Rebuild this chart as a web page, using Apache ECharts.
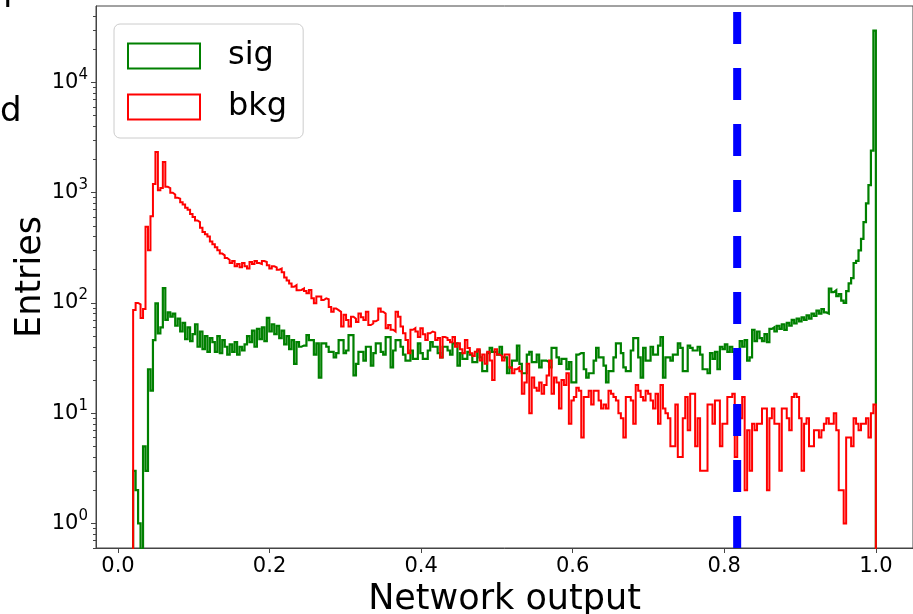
<!DOCTYPE html>
<html>
<head>
<meta charset="utf-8">
<script src="https://cdn.jsdelivr.net/npm/echarts@6/dist/echarts.min.js"></script>
<style>
  html, body { margin: 0; padding: 0; background: #ffffff; }
  #chart { width: 913px; height: 614px; }
</style>
</head>
<body>
<div id="chart"></div>
<script>
// Histogram range: 300 equal-width bins between these edges
const histRange = [0.02, 1.0];

// Signal entries per bin
const sigCounts = [
  3, 2, 1, 0, 5, 3, 25, 16, 46, 99,
  53, 60, 136, 70, 82, 75, 80, 62, 72, 55,
  66, 47, 60, 45, 52, 64, 40, 55, 38, 50,
  36, 48, 44, 36, 50, 35, 46, 40, 34, 42,
  36, 44, 34, 40, 37, 42, 50, 44, 56, 40,
  58, 47, 60, 45, 73, 55, 64, 52, 62, 48,
  56, 42, 50, 38, 46, 28, 44, 40, 41, 41,
  51, 46, 46, 34, 43, 21, 43, 43, 40, 36,
  36, 32, 35, 46, 46, 35, 37, 51, 51, 22,
  28, 36, 36, 30, 40, 40, 27, 35, 43, 43,
  36, 34, 49, 49, 26, 37, 46, 46, 40, 34,
  30, 30, 37, 31, 31, 43, 35, 31, 31, 37,
  44, 40, 40, 35, 32, 40, 40, 37, 34, 43,
  43, 27, 35, 31, 31, 36, 34, 29, 29, 37,
  32, 24, 24, 35, 39, 36, 36, 34, 40, 32,
  32, 23, 26, 30, 30, 41, 28, 23, 23, 34,
  36, 29, 29, 34, 26, 30, 30, 29, 26, 39,
  39, 32, 28, 31, 31, 25, 29, 19, 19, 34,
  35, 35, 25, 21, 23, 23, 30, 39, 32, 32,
  27, 19, 24, 24, 32, 43, 43, 35, 26, 24,
  24, 37, 48, 48, 32, 21, 39, 30, 30, 40,
  34, 34, 41, 49, 21, 32, 32, 30, 34, 34,
  43, 39, 24, 24, 41, 39, 37, 37, 40, 34,
  25, 25, 23, 35, 31, 36, 25, 40, 38, 42,
  36, 40, 36, 34, 38, 45, 40, 46, 30, 32,
  57, 45, 55, 48, 45, 52, 44, 58, 60, 55,
  62, 58, 64, 57, 66, 62, 70, 65, 72, 68,
  74, 70, 77, 72, 80, 76, 85, 80, 88, 82,
  80, 135, 125, 130, 115, 120, 105, 100, 128, 150,
  168, 230, 240, 300, 380, 540, 800, 1170, 2400, 29500
];

// Background entries per bin
const bkgCounts = [
  86, 100, 97, 73, 88, 490, 300, 610, 1200, 2340,
  1050, 1100, 1900, 1130, 1100, 1000, 960, 900, 880, 820,
  780, 730, 700, 640, 600, 560, 540, 480, 440, 420,
  400, 360, 340, 320, 300, 280, 270, 255, 245, 230,
  240, 215, 225, 210, 230, 215, 205, 235, 225, 240,
  230, 225, 240, 235, 220, 205, 215, 210, 200, 205,
  190, 170, 160, 150, 140, 145, 130, 131, 135, 128,
  122, 131, 110, 99, 114, 114, 106, 110, 108, 92,
  83, 89, 86, 83, 61, 78, 70, 61, 75, 72,
  67, 80, 74, 70, 83, 63, 65, 68, 70, 89,
  83, 80, 59, 63, 57, 55, 83, 75, 61, 53,
  46, 35, 57, 59, 55, 49, 59, 52, 46, 53,
  55, 54, 46, 48, 32, 49, 48, 46, 44, 49,
  40, 43, 38, 35, 46, 39, 35, 33, 36, 38,
  30, 34, 28, 36, 30, 20, 38, 34, 33, 30,
  34, 34, 26, 23, 25, 26, 24, 15, 19, 28,
  10, 21, 17, 16, 19, 15, 18, 22, 30, 15,
  21, 19, 11, 20, 18, 23, 8, 13, 14, 17,
  16, 6, 14, 14, 16, 12, 16, 16, 13, 11,
  12, 11, 16, 15, 14, 13, 10, 9, 6, 14,
  14, 13, 8, 18, 16, 14, 13, 16, 15, 13,
  11, 15, 8, 18, 11, 10, 9, 5, 5, 12,
  4, 4, 9, 14, 7, 15, 15, 5, 9, 3,
  3, 3, 12, 12, 8, 13, 13, 5, 8, 8,
  14, 14, 15, 4, 9, 9, 14, 2, 7, 3,
  8, 7, 8, 8, 11, 11, 2, 9, 11, 8,
  8, 3, 11, 11, 9, 7, 14, 15, 14, 9,
  3, 8, 9, 5, 5, 7, 7, 6, 7, 8,
  9, 8, 8, 10, 7, 2, 2, 1, 6, 6,
  5, 9, 8, 7, 8, 8, 9, 6, 10, 12
];

// Selection cut on the network output
const cutValue = 0.817;

// Axis ticks and limits
const xTickValues = [0, 0.2, 0.4, 0.6, 0.8, 1.0];
const yTickValues = [1, 10, 100, 1000, 10000];
const xLimits = [-0.029, 1.049];
const yLimits = [0.598, 49300];

const FONT = 'DejaVu Sans';
const AXIS_COLOR = '#444444';
// Empty bins are sent below the visible log range so the step drops out of the frame
const EMPTY_BIN = 0.1;

// Step outline in the style of an unfilled histogram
function stepOutline(counts) {
  const n = counts.length;
  const width = (histRange[1] - histRange[0]) / n;
  const safe = c => (c > 0 ? c : EMPTY_BIN);
  const pts = [[histRange[0], EMPTY_BIN]];
  counts.forEach((c, i) => pts.push([histRange[0] + i * width, safe(c)]));
  pts.push([histRange[1], safe(counts[n - 1])]);
  pts.push([histRange[1], EMPTY_BIN]);
  return pts;
}

// Minor log ticks (2..9 x 10^n) inside the visible range
const yMinorTicks = [];
for (let e = -1; e <= 4; e++) {
  for (let k = 2; k <= 9; k++) {
    const v = k * Math.pow(10, e);
    if (v >= yLimits[0] && v <= yLimits[1]) yMinorTicks.push(v);
  }
}

const chart = echarts.init(document.getElementById('chart'), null, { renderer: 'canvas' });

const option = {
  animation: false,
  backgroundColor: '#ffffff',
  textStyle: { fontFamily: FONT },
  grid: {
    left: 96, right: 0, top: 6, bottom: 66,
    containLabel: false,
    outerBoundsMode: 'none',
    show: true, borderColor: AXIS_COLOR, borderWidth: 1, backgroundColor: 'transparent'
  },
  legend: {
    orient: 'vertical',
    left: 114, top: 24,
    padding: [16, 16, 15, 13],
    itemGap: 19,
    itemWidth: 72, itemHeight: 25,
    backgroundColor: 'rgba(255,255,255,0.8)',
    borderColor: '#cccccc', borderWidth: 1, borderRadius: 6,
    textStyle: { fontFamily: FONT, fontSize: 32, color: '#000000', padding: [0, 0, 0, 23] },
    selectedMode: false,
    data: [
      { name: 'sig', icon: 'rect', itemStyle: { color: 'rgba(0,0,0,0)', borderColor: 'green', borderWidth: 2 } },
      { name: 'bkg', icon: 'rect', itemStyle: { color: 'rgba(0,0,0,0)', borderColor: 'red', borderWidth: 2 } }
    ]
  },
  xAxis: {
    type: 'value',
    min: xLimits[0], max: xLimits[1],
    name: 'Network output',
    nameLocation: 'middle',
    nameGap: 34,
    nameMoveOverlap: false,
    nameTextStyle: { fontFamily: FONT, fontSize: 35, color: '#000000' },
    axisLine: { show: true, onZero: false, lineStyle: { color: AXIS_COLOR, width: 1 } },
    axisTick: { show: true, length: 5, customValues: xTickValues, lineStyle: { color: AXIS_COLOR } },
    axisLabel: {
      customValues: xTickValues,
      formatter: v => v.toFixed(1),
      fontFamily: FONT, fontSize: 21, color: '#000000', margin: 8
    },
    splitLine: { show: false }
  },
  yAxis: [
    {
      type: 'log', logBase: 10,
      min: yLimits[0], max: yLimits[1],
      name: 'Entries',
      nameLocation: 'middle',
      nameGap: 48,
      nameMoveOverlap: false,
      nameTextStyle: { fontFamily: FONT, fontSize: 35, color: '#000000' },
      axisLine: { show: true, onZero: false, lineStyle: { color: AXIS_COLOR, width: 1 } },
      axisTick: { show: true, length: 5, customValues: yTickValues, lineStyle: { color: AXIS_COLOR } },
      axisLabel: {
        customValues: yTickValues,
        formatter: v => '10{sup|' + Math.round(Math.log10(v)) + '}',
        fontFamily: FONT, fontSize: 21, color: '#000000', margin: 8, lineHeight: 30,
        rich: { sup: { fontFamily: FONT, fontSize: 15, lineHeight: 15, verticalAlign: 'top', color: '#000000' } }
      },
      splitLine: { show: false }
    },
    {
      type: 'log', logBase: 10,
      min: yLimits[0], max: yLimits[1],
      position: 'left',
      axisLine: { show: false, onZero: false },
      axisTick: { show: true, length: 3, customValues: yMinorTicks, lineStyle: { color: AXIS_COLOR } },
      axisLabel: { show: false },
      splitLine: { show: false }
    }
  ],
  series: [
    {
      name: 'sig', type: 'line', step: 'end', yAxisIndex: 0,
      data: stepOutline(sigCounts),
      showSymbol: false, symbol: 'none', silent: true,
      lineStyle: { color: 'green', width: 2.2, join: 'miter' },
      itemStyle: { color: 'green' },
      z: 2
    },
    {
      name: 'bkg', type: 'line', step: 'end', yAxisIndex: 0,
      data: stepOutline(bkgCounts),
      showSymbol: false, symbol: 'none', silent: true,
      lineStyle: { color: 'red', width: 2, join: 'miter' },
      itemStyle: { color: 'red' },
      z: 3
    },
    {
      name: 'cut', type: 'line', yAxisIndex: 0,
      data: [[cutValue, yLimits[0]], [cutValue, yLimits[1]]],
      showSymbol: false, symbol: 'none', silent: true,
      lineStyle: { color: 'blue', width: 8, type: [32, 24], cap: 'butt' },
      z: 4
    }
  ],
  graphic: [
    { type: 'text', x: 0, y: 95, silent: true,
      style: { text: 'd', font: '34px "DejaVu Sans"', fill: '#000000', verticalAlign: 'top' } },
    { type: 'text', x: 3, y: -19, silent: true,
      style: { text: 'l', font: '34px "DejaVu Sans"', fill: '#000000', verticalAlign: 'top' } }
  ]
};

chart.setOption(option);
</script>
</body>
</html>
